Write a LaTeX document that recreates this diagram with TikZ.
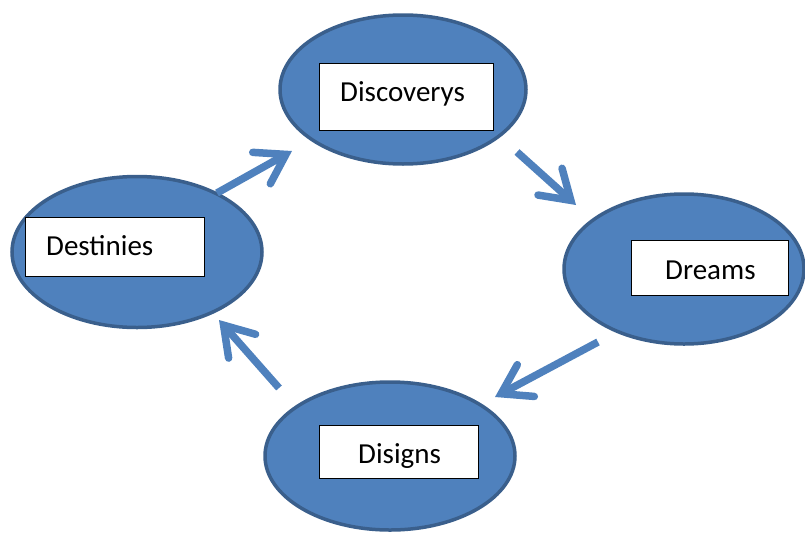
\documentclass[tikz,border=0pt]{standalone}
\usepackage{fontspec}
\setmainfont{Carlito}
\usetikzlibrary{shapes.geometric,arrows.meta}
\definecolor{ofill}{HTML}{4F81BD}
\definecolor{oline}{HTML}{3A5F8C}
\tikzset{
  oval/.style={ellipse, draw=oline, fill=ofill, line width=3.5pt, inner sep=0pt, outer sep=0pt},
  lbox/.style={rectangle, draw=black, fill=white, line width=1pt, inner sep=0pt, outer sep=0pt},
  ltext/.style={anchor=base west, inner sep=0pt, font=\fontsize{29}{34}\selectfont},
  flow/.style={draw=ofill, line width=7.5pt, -{Straight Barb[length=28pt, width=36pt, line cap=round]}}
}
\begin{document}
\begin{tikzpicture}[x=1pt, y=-1pt]
\useasboundingbox (0,0) rectangle (805,533);
% ellipses
\node[oval, minimum width=246pt, minimum height=149pt] (E1) at (403,89.5) {};
\node[oval, minimum width=250pt, minimum height=151pt] (E2) at (137,252) {};
\node[oval, minimum width=240pt, minimum height=150pt] (E3) at (684,269) {};
\node[oval, minimum width=250pt, minimum height=148pt] (E4) at (390,456) {};
% label boxes
\node[lbox, minimum width=174pt, minimum height=67pt] (B1) at (406,96.5) {};
\node[lbox, minimum width=179pt, minimum height=59pt] (B2) at (114.5,246.5) {};
\node[lbox, minimum width=157pt, minimum height=55pt] (B3) at (709.5,267.5) {};
\node[lbox, minimum width=159pt, minimum height=53pt] (B4) at (398.5,451.5) {};
% texts
\node[ltext] (T1) at (340,101) {Discoverys};
\node[ltext] (T2) at (46,255) {Destinies};
\node[ltext] (T3) at (665,279) {Dreams};
\node[ltext] (T4) at (358,463) {Disigns};
% arrow end points
\coordinate (a1s) at (217,193); \coordinate (a1t) at (292,151);
\coordinate (a2s) at (517,152); \coordinate (a2t) at (576,205);
\coordinate (a3s) at (598,342); \coordinate (a3t) at (495,397);
\coordinate (a4s) at (279,388); \coordinate (a4t) at (219,320);
\draw[flow] (a1s) -- (a1t);
\draw[flow] (a2s) -- (a2t);
\draw[flow] (a3s) -- (a3t);
\draw[flow] (a4s) -- (a4t);
\end{tikzpicture}
\end{document}
